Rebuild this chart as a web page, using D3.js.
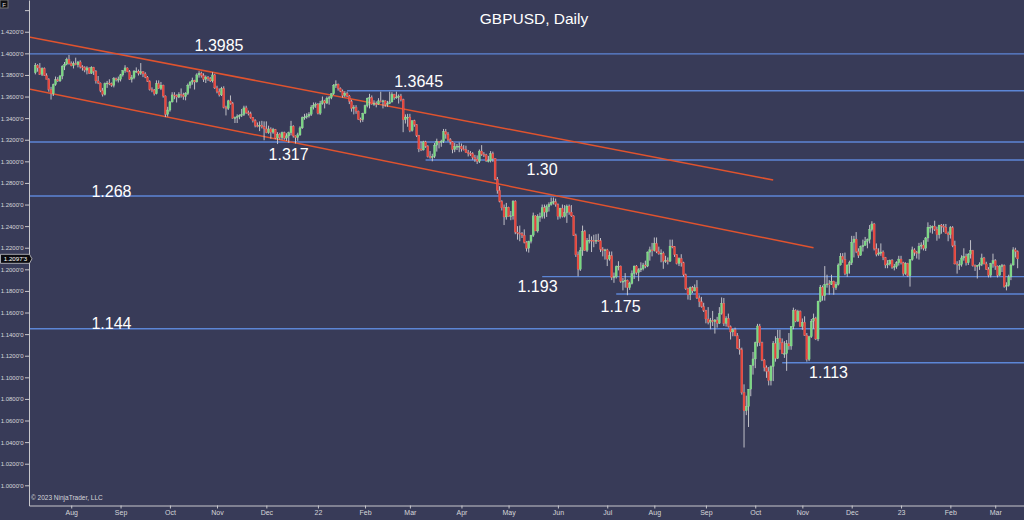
<!DOCTYPE html>
<html lang="en">
<head>
<meta charset="UTF-8">
<title>GBPUSD, Daily</title>
<script src="https://cdn.jsdelivr.net/npm/d3@7"></script>
<style>
  html, body { margin: 0; padding: 0; background: #383b58; }
  svg { display: block; font-family: 'Liberation Sans', Arial, sans-serif; }
</style>
</head>
<body>
<svg id="chart" width="1024" height="520"></svg>
<script>
// daily GBPUSD candles, one per weekday starting at firstDay
const firstDay = '2021-07-09';

const opens = [
  // Jul 2021
  1.3820,1.3890,1.3865,1.3805,1.3860,1.3795,1.3760,1.3665,1.3625,1.3710,1.3755,1.3745,1.3790,1.3880,1.3900,1.3945,
  // Aug
  1.3905,1.3885,1.3905,1.3895,1.3920,1.3875,1.3870,1.3845,1.3865,1.3815,1.3870,1.3835,1.3745,1.3725,1.3655,1.3620,1.3720,1.3725,1.3720,1.3705,1.3765,1.3755,
  // Sep
  1.3760,1.3800,1.3840,1.3865,1.3830,1.3760,1.3775,1.3835,1.3835,1.3815,1.3830,1.3810,1.3780,1.3740,1.3665,1.3660,1.3625,1.3720,1.3675,1.3705,1.3605,1.3435,
  // Oct
  1.3475,1.3550,1.3615,1.3610,1.3595,1.3620,1.3615,1.3600,1.3630,1.3705,1.3735,1.3750,1.3735,1.3800,1.3815,1.3795,1.3760,1.3780,1.3765,1.3745,1.3800,
  // Nov
  1.3680,1.3645,1.3615,1.3675,1.3500,1.3490,1.3560,1.3535,1.3400,1.3405,1.3415,1.3425,1.3435,1.3495,1.3450,1.3440,1.3405,1.3375,1.3330,1.3325,1.3335,1.3320,
  // Dec
  1.3300,1.3265,1.3300,1.3270,1.3295,1.3215,1.3250,1.3220,1.3265,1.3215,1.3235,1.3265,1.3325,1.3235,1.3220,1.3245,1.3310,1.3405,1.3410,1.3420,1.3435,1.3500,1.3520,
  // Jan 2022
  1.3530,1.3445,1.3535,1.3560,1.3540,1.3585,1.3590,1.3625,1.3705,1.3715,1.3675,1.3650,1.3610,1.3630,1.3605,1.3555,1.3490,1.3500,1.3465,1.3390,1.3385,
  // Feb
  1.3445,1.3515,1.3585,1.3590,1.3530,1.3535,1.3530,1.3560,1.3555,1.3560,1.3525,1.3535,1.3550,1.3620,1.3590,1.3595,1.3605,1.3570,1.3385,1.3410,
  // Mar
  1.3410,1.3285,1.3375,1.3340,1.3240,1.3115,1.3105,1.3180,1.3140,1.3045,1.3035,1.3045,1.3150,1.3185,1.3175,1.3185,1.3275,1.3250,1.3200,1.3180,1.3110,1.3135,1.3140,
  // Apr
  1.3140,1.3115,1.3110,1.3080,1.3075,1.3070,1.3035,1.3020,1.3000,1.3095,1.3065,1.3060,1.3005,1.3005,1.3070,1.3025,1.2835,1.2730,1.2630,1.2570,1.2485,
  // May
  1.2575,1.2490,1.2495,1.2630,1.2345,1.2335,1.2330,1.2315,1.2250,1.2195,1.2260,1.2315,1.2495,1.2355,1.2490,1.2490,1.2570,1.2530,1.2580,1.2600,1.2620,1.2625,
  // Jun
  1.2600,1.2490,1.2565,1.2490,1.2525,1.2585,1.2530,1.2495,1.2315,1.2135,1.2000,1.2175,1.2350,1.2175,1.2265,1.2270,1.2265,1.2260,1.2270,1.2265,1.2185,1.2175,
  // Jul
  1.2180,1.2095,1.2125,1.1925,1.1930,1.2025,1.2030,1.1890,1.1890,1.1900,1.1830,1.1870,1.1960,1.2030,1.1970,1.1995,1.2005,1.2040,1.2030,1.2160,1.2180,
  // Aug
  1.2175,1.2240,1.2165,1.2145,1.2150,1.2075,1.2080,1.2075,1.2215,1.2210,1.2135,1.2055,1.2100,1.2060,1.1950,1.1820,1.1765,1.1830,1.1800,1.1830,1.1735,1.1700,1.1655,
  // Sep
  1.1620,1.1540,1.1510,1.1525,1.1515,1.1530,1.1500,1.1590,1.1685,1.1500,1.1545,1.1470,1.1420,1.1440,1.1385,1.1270,1.1255,1.0860,1.0690,1.0730,1.0890,1.1110,
  // Oct
  1.1170,1.1320,1.1475,1.1320,1.1160,1.1090,1.1055,1.0970,1.1100,1.1315,1.1175,1.1360,1.1320,1.1220,1.1220,1.1310,1.1290,1.1470,1.1620,1.1520,1.1610,
  // Nov
  1.1470,1.1510,1.1390,1.1165,1.1375,1.1520,1.1545,1.1355,1.1705,1.1835,1.1755,1.1860,1.1865,1.1860,1.1890,1.1830,1.1860,1.2040,1.2120,1.2090,1.1960,1.2040,
  // Dec
  1.2060,1.2250,1.2280,1.2165,1.2130,1.2210,1.2220,1.2260,1.2275,1.2370,1.2420,1.2190,1.2140,1.2150,1.2160,1.2110,1.2040,1.2050,1.2085,1.2020,1.2025,1.2060,
  // Jan 2023
  1.2095,1.2060,1.1960,1.2055,1.1940,1.2090,1.2180,1.2155,1.2150,1.2215,1.2225,1.2195,1.2290,1.2390,1.2390,1.2400,1.2370,1.2320,1.2410,1.2400,1.2390,1.2335,
  // Feb
  1.2320,1.2385,1.2220,1.2050,1.2045,1.2045,1.2105,1.2120,1.2060,1.2140,1.2175,1.2035,1.2025,1.2035,1.2045,1.2105,1.2050,1.2000,1.1945,1.2055,
  // Mar
  1.2080,1.2030,1.1945,1.2030,1.2035,1.1840,1.1850,1.1930,1.2040,1.2180,1.2165
];

const highs = [
  1.3910,1.3900,1.3910,1.3870,1.3870,1.3815,1.3770,1.3690,1.3720,1.3785,1.3780,1.3800,1.3890,1.3920,1.3960,1.3985,
  1.3925,1.3925,1.3960,1.3930,1.3935,1.3890,1.3880,1.3880,1.3870,1.3880,1.3875,1.3845,1.3790,1.3730,1.3680,1.3730,1.3745,1.3760,1.3730,1.3780,1.3775,1.3785,
  1.3810,1.3845,1.3890,1.3870,1.3845,1.3800,1.3845,1.3870,1.3850,1.3910,1.3835,1.3825,1.3790,1.3750,1.3685,1.3670,1.3750,1.3750,1.3735,1.3710,1.3610,1.3505,
  1.3560,1.3640,1.3640,1.3620,1.3640,1.3675,1.3635,1.3640,1.3720,1.3740,1.3775,1.3755,1.3815,1.3835,1.3830,1.3815,1.3795,1.3790,1.3780,1.3825,1.3810,
  1.3700,1.3675,1.3690,1.3695,1.3515,1.3570,1.3610,1.3550,1.3415,1.3435,1.3435,1.3485,1.3515,1.3515,1.3470,1.3460,1.3410,1.3390,1.3360,1.3370,1.3375,1.3370,
  1.3370,1.3330,1.3315,1.3310,1.3300,1.3270,1.3265,1.3275,1.3275,1.3260,1.3275,1.3375,1.3335,1.3240,1.3265,1.3325,1.3415,1.3440,1.3445,1.3455,1.3520,1.3545,1.3545,
  1.3540,1.3560,1.3600,1.3570,1.3600,1.3605,1.3630,1.3715,1.3750,1.3720,1.3685,1.3665,1.3650,1.3645,1.3615,1.3570,1.3520,1.3520,1.3470,1.3405,1.3450,
  1.3525,1.3590,1.3625,1.3610,1.3565,1.3555,1.3585,1.3645,1.3570,1.3565,1.3560,1.3645,1.3640,1.3625,1.3645,1.3620,1.3625,1.3580,1.3435,1.3440,
  1.3440,1.3380,1.3385,1.3345,1.3245,1.3185,1.3190,1.3190,1.3150,1.3095,1.3070,1.3170,1.3210,1.3185,1.3200,1.3300,1.3300,1.3270,1.3215,1.3185,1.3170,1.3160,1.3175,
  1.3165,1.3150,1.3145,1.3105,1.3095,1.3085,1.3060,1.3055,1.3110,1.3150,1.3085,1.3070,1.3050,1.3095,1.3090,1.3030,1.2855,1.2770,1.2640,1.2600,1.2615,
  1.2580,1.2540,1.2640,1.2640,1.2400,1.2405,1.2345,1.2370,1.2260,1.2265,1.2320,1.2525,1.2500,1.2510,1.2525,1.2600,1.2600,1.2600,1.2620,1.2665,1.2665,1.2655,
  1.2610,1.2570,1.2600,1.2595,1.2600,1.2600,1.2595,1.2500,1.2330,1.2165,1.2205,1.2405,1.2365,1.2290,1.2325,1.2305,1.2320,1.2325,1.2330,1.2290,1.2205,1.2190,
  1.2190,1.2165,1.2165,1.1970,1.2035,1.2075,1.2035,1.1920,1.1965,1.1905,1.1885,1.1990,1.2035,1.2040,1.2010,1.2065,1.2060,1.2080,1.2165,1.2210,1.2245,
  1.2295,1.2295,1.2210,1.2185,1.2165,1.2125,1.2110,1.2275,1.2275,1.2215,1.2140,1.2110,1.2140,1.2070,1.1960,1.1830,1.1840,1.1845,1.1860,1.1900,1.1760,1.1745,1.1690,
  1.1625,1.1650,1.1550,1.1615,1.1540,1.1560,1.1650,1.1740,1.1735,1.1565,1.1590,1.1480,1.1450,1.1460,1.1410,1.1355,1.1275,1.0935,1.0830,1.0890,1.1115,1.1235,
  1.1330,1.1495,1.1495,1.1330,1.1170,1.1110,1.1095,1.1110,1.1335,1.1380,1.1440,1.1440,1.1360,1.1335,1.1345,1.1410,1.1475,1.1645,1.1630,1.1625,1.1620,
  1.1545,1.1565,1.1410,1.1385,1.1540,1.1590,1.1560,1.1710,1.1855,1.1850,1.2030,1.1950,1.1900,1.1950,1.1895,1.1885,1.2055,1.2150,1.2150,1.2155,1.2045,1.2080,
  1.2310,1.2310,1.2345,1.2195,1.2220,1.2275,1.2300,1.2285,1.2410,1.2445,1.2430,1.2240,1.2195,1.2240,1.2175,1.2115,1.2085,1.2090,1.2095,1.2050,1.2075,1.2125,
  1.2125,1.2070,1.2065,1.2060,1.2095,1.2210,1.2195,1.2170,1.2245,1.2250,1.2270,1.2300,1.2435,1.2410,1.2405,1.2450,1.2395,1.2410,1.2420,1.2420,1.2420,1.2350,
  1.2400,1.2400,1.2265,1.2075,1.2085,1.2130,1.2195,1.2145,1.2150,1.2270,1.2180,1.2045,1.2040,1.2065,1.2145,1.2115,1.2070,1.2020,1.2060,1.2145,
  1.2095,1.2035,1.2040,1.2050,1.2045,1.1880,1.1950,1.2055,1.2205,1.2200,1.2175
];

const lows = [
  1.3805,1.3830,1.3800,1.3790,1.3790,1.3760,1.3645,1.3572,1.3605,1.3700,1.3735,1.3735,1.3760,1.3845,1.3890,1.3895,
  1.3880,1.3860,1.3890,1.3870,1.3860,1.3840,1.3825,1.3805,1.3810,1.3810,1.3800,1.3720,1.3715,1.3640,1.3600,1.3610,1.3680,1.3705,1.3690,1.3685,1.3740,1.3730,
  1.3740,1.3785,1.3820,1.3825,1.3755,1.3730,1.3760,1.3820,1.3795,1.3800,1.3780,1.3770,1.3735,1.3655,1.3640,1.3610,1.3620,1.3670,1.3660,1.3590,1.3410,1.3415,
  1.3460,1.3545,1.3575,1.3545,1.3585,1.3590,1.3570,1.3565,1.3615,1.3675,1.3710,1.3665,1.3730,1.3775,1.3775,1.3735,1.3725,1.3745,1.3735,1.3730,1.3670,
  1.3630,1.3600,1.3605,1.3490,1.3425,1.3475,1.3525,1.3395,1.3355,1.3355,1.3390,1.3410,1.3420,1.3440,1.3425,1.3395,1.3360,1.3315,1.3315,1.3280,1.3305,1.3195,
  1.3260,1.3255,1.3210,1.3255,1.3205,1.3160,1.3200,1.3200,1.3200,1.3190,1.3170,1.3240,1.3220,1.3165,1.3190,1.3235,1.3300,1.3385,1.3395,1.3405,1.3420,1.3480,1.3495,
  1.3435,1.3430,1.3525,1.3490,1.3530,1.3525,1.3575,1.3615,1.3680,1.3655,1.3640,1.3590,1.3595,1.3595,1.3530,1.3460,1.3435,1.3440,1.3385,1.3360,1.3365,
  1.3440,1.3500,1.3490,1.3525,1.3515,1.3500,1.3525,1.3545,1.3490,1.3505,1.3505,1.3530,1.3545,1.3570,1.3580,1.3535,1.3555,1.3270,1.3350,1.3320,
  1.3270,1.3275,1.3320,1.3225,1.3085,1.3095,1.3100,1.3125,1.3035,1.3025,1.3000,1.3030,1.3090,1.3120,1.3135,1.3170,1.3210,1.3185,1.3155,1.3075,1.3085,1.3105,1.3085,
  1.3090,1.3100,1.3080,1.3045,1.3050,1.3015,1.2995,1.2975,1.2985,1.3050,1.3040,1.2995,1.2990,1.2990,1.2995,1.2825,1.2700,1.2620,1.2545,1.2410,1.2460,
  1.2490,1.2455,1.2460,1.2325,1.2275,1.2260,1.2290,1.2240,1.2165,1.2155,1.2240,1.2300,1.2355,1.2340,1.2440,1.2470,1.2470,1.2485,1.2535,1.2590,1.2600,1.2580,
  1.2460,1.2470,1.2480,1.2480,1.2430,1.2505,1.2485,1.2310,1.2115,1.1935,1.1985,1.2125,1.2170,1.2160,1.2240,1.2160,1.2205,1.2235,1.2255,1.2160,1.2120,1.2090,
  1.2030,1.2080,1.1900,1.1875,1.1915,1.1990,1.1875,1.1805,1.1830,1.1760,1.1810,1.1860,1.1910,1.1950,1.1890,1.1975,1.1990,1.2010,1.2020,1.2080,1.2120,
  1.2165,1.2150,1.2135,1.2065,1.2005,1.2060,1.2045,1.2070,1.2195,1.2115,1.2045,1.2030,1.2025,1.1935,1.1810,1.1720,1.1715,1.1780,1.1795,1.1725,1.1650,1.1645,1.1605,
  1.1500,1.1490,1.1445,1.1475,1.1405,1.1460,1.1495,1.1580,1.1475,1.1470,1.1460,1.1350,1.1380,1.1380,1.1265,1.1210,1.0840,1.0350,1.0650,1.0540,1.0825,1.1025,
  1.1085,1.1285,1.1290,1.1150,1.1055,1.0995,1.0925,1.0925,1.0965,1.1145,1.1170,1.1255,1.1215,1.1180,1.1060,1.1255,1.1255,1.1445,1.1510,1.1515,1.1470,
  1.1440,1.1385,1.1145,1.1150,1.1365,1.1450,1.1345,1.1335,1.1695,1.1710,1.1710,1.1830,1.1765,1.1855,1.1765,1.1810,1.1850,1.2035,1.2060,1.1945,1.1930,1.1960,
  1.2040,1.2110,1.2150,1.2105,1.2125,1.2165,1.2220,1.2195,1.2240,1.2350,1.2175,1.2120,1.2125,1.2125,1.2085,1.2010,1.2010,1.2035,1.2005,1.1990,1.2005,1.2035,
  1.2045,1.1940,1.1950,1.1930,1.1840,1.2080,1.2125,1.2100,1.2090,1.2185,1.2175,1.2170,1.2255,1.2340,1.2330,1.2355,1.2265,1.2285,1.2330,1.2345,1.2330,1.2260,
  1.2285,1.2205,1.2045,1.1960,1.1995,1.2025,1.2080,1.2035,1.2040,1.2100,1.2025,1.1985,1.1915,1.1995,1.2030,1.2045,1.1995,1.1925,1.1925,1.2015,
  1.1995,1.1925,1.1940,1.1975,1.1830,1.1805,1.1840,1.1900,1.2035,1.2110,1.2010
];

const closes = [
  1.3890,1.3865,1.3805,1.3860,1.3795,1.3760,1.3665,1.3625,1.3710,1.3755,1.3745,1.3790,1.3880,1.3900,1.3945,1.3905,
  1.3885,1.3905,1.3895,1.3920,1.3875,1.3870,1.3845,1.3865,1.3815,1.3870,1.3835,1.3745,1.3725,1.3655,1.3620,1.3720,1.3725,1.3720,1.3705,1.3765,1.3755,1.3760,
  1.3800,1.3840,1.3865,1.3830,1.3760,1.3775,1.3835,1.3835,1.3815,1.3830,1.3810,1.3780,1.3740,1.3665,1.3660,1.3625,1.3720,1.3675,1.3705,1.3605,1.3435,1.3475,
  1.3550,1.3615,1.3610,1.3595,1.3620,1.3615,1.3600,1.3630,1.3705,1.3735,1.3750,1.3735,1.3800,1.3815,1.3795,1.3760,1.3780,1.3765,1.3745,1.3800,1.3680,
  1.3645,1.3615,1.3675,1.3500,1.3490,1.3560,1.3535,1.3400,1.3405,1.3415,1.3425,1.3435,1.3495,1.3450,1.3440,1.3405,1.3375,1.3330,1.3325,1.3335,1.3320,1.3300,
  1.3265,1.3300,1.3270,1.3295,1.3215,1.3250,1.3220,1.3265,1.3215,1.3235,1.3265,1.3325,1.3235,1.3220,1.3245,1.3310,1.3405,1.3410,1.3420,1.3435,1.3500,1.3520,1.3530,
  1.3445,1.3535,1.3560,1.3540,1.3585,1.3590,1.3625,1.3705,1.3715,1.3675,1.3650,1.3610,1.3630,1.3605,1.3555,1.3490,1.3500,1.3465,1.3390,1.3385,1.3445,
  1.3515,1.3585,1.3590,1.3530,1.3535,1.3530,1.3560,1.3555,1.3560,1.3525,1.3535,1.3550,1.3620,1.3590,1.3595,1.3605,1.3570,1.3385,1.3410,1.3410,
  1.3285,1.3375,1.3340,1.3240,1.3115,1.3105,1.3180,1.3140,1.3045,1.3035,1.3045,1.3150,1.3185,1.3175,1.3185,1.3275,1.3250,1.3200,1.3180,1.3110,1.3135,1.3140,1.3140,
  1.3115,1.3110,1.3080,1.3075,1.3070,1.3035,1.3020,1.3000,1.3095,1.3065,1.3060,1.3005,1.3005,1.3070,1.3025,1.2835,1.2730,1.2630,1.2570,1.2485,1.2575,
  1.2490,1.2495,1.2630,1.2345,1.2335,1.2330,1.2315,1.2250,1.2195,1.2260,1.2315,1.2495,1.2355,1.2490,1.2490,1.2570,1.2530,1.2580,1.2600,1.2620,1.2625,1.2600,
  1.2490,1.2565,1.2490,1.2525,1.2585,1.2530,1.2495,1.2315,1.2135,1.2000,1.2175,1.2350,1.2175,1.2265,1.2270,1.2265,1.2260,1.2270,1.2265,1.2185,1.2175,1.2180,
  1.2095,1.2125,1.1925,1.1930,1.2025,1.2030,1.1890,1.1890,1.1900,1.1830,1.1870,1.1960,1.2030,1.1970,1.1995,1.2005,1.2040,1.2030,1.2160,1.2180,1.2175,
  1.2240,1.2165,1.2145,1.2150,1.2075,1.2080,1.2075,1.2215,1.2210,1.2135,1.2055,1.2100,1.2060,1.1950,1.1820,1.1765,1.1830,1.1800,1.1830,1.1735,1.1700,1.1655,1.1620,
  1.1540,1.1510,1.1525,1.1515,1.1530,1.1500,1.1590,1.1685,1.1500,1.1545,1.1470,1.1420,1.1440,1.1385,1.1270,1.1255,1.0860,1.0690,1.0730,1.0890,1.1110,1.1170,
  1.1320,1.1475,1.1320,1.1160,1.1090,1.1055,1.0970,1.1100,1.1315,1.1175,1.1360,1.1320,1.1220,1.1220,1.1310,1.1290,1.1470,1.1620,1.1520,1.1610,1.1470,
  1.1510,1.1390,1.1165,1.1375,1.1520,1.1545,1.1355,1.1705,1.1835,1.1755,1.1860,1.1865,1.1860,1.1890,1.1830,1.1860,1.2040,1.2120,1.2090,1.1960,1.2040,1.2060,
  1.2250,1.2280,1.2165,1.2130,1.2210,1.2220,1.2260,1.2275,1.2370,1.2420,1.2190,1.2140,1.2150,1.2160,1.2110,1.2040,1.2050,1.2085,1.2020,1.2025,1.2060,1.2095,
  1.2060,1.1960,1.2055,1.1940,1.2090,1.2180,1.2155,1.2150,1.2215,1.2225,1.2195,1.2290,1.2390,1.2390,1.2400,1.2370,1.2320,1.2410,1.2400,1.2390,1.2335,1.2320,
  1.2385,1.2220,1.2050,1.2045,1.2045,1.2105,1.2120,1.2060,1.2140,1.2175,1.2035,1.2025,1.2035,1.2045,1.2105,1.2050,1.2000,1.1945,1.2055,1.2080,
  1.2030,1.1945,1.2030,1.2035,1.1840,1.1850,1.1930,1.2040,1.2180,1.2165,1.2097
];

// drawn support / resistance levels
const levelPrices = [1.3995, 1.3654, 1.3179, 1.3012, 1.2679, 1.1932, 1.1771, 1.1450, 1.1135];
const levelStarts = [null, '2022-01-20', null, '2022-03-10', null, '2022-05-23', '2022-07-07', null, '2022-10-19'];

const labelTexts  = ['1.3985', '1.3645', '1.317', '1.30', '1.268', '1.193', '1.175', '1.144', '1.113'];
const labelDates  = ['2021-10-18', '2022-02-18', '2021-12-02', '2022-05-12', '2021-08-13', '2022-05-06', '2022-06-28', '2021-08-13', '2022-11-04'];
const labelPrices = [1.4021, 1.3688, 1.3012, 1.2873, 1.2669, 1.1790, 1.1605, 1.1447, 1.0994];

// channel lines: [date, price] anchors
const trendFrom = [['2021-07-09', 1.4140], ['2021-07-09', 1.3658]];
const trendTo   = [['2022-10-13', 1.2827], ['2022-11-08', 1.2200]];

const priceTicks = [1.00, 1.02, 1.04, 1.06, 1.08, 1.10, 1.12, 1.14, 1.16, 1.18, 1.20, 1.22,
                    1.24, 1.26, 1.28, 1.30, 1.32, 1.34, 1.36, 1.38, 1.40, 1.42, 1.44];
const lastPrice = 1.20973;

const W = 1024, H = 520;
const plotL = 29, plotR = 1024, plotT = 0, plotB = 505.5;

const parse = d3.utcParse('%Y-%m-%d');
const fmt = d3.utcFormat('%Y-%m-%d');
const days = [];
for (let d = parse(firstDay); days.length < closes.length; d = d3.utcDay.offset(d, 1)) {
  if (d.getUTCDay() !== 0 && d.getUTCDay() !== 6) days.push(d);
}
const keys = days.map(fmt);

const candles = keys.map((k, i) => ({ key: k, o: opens[i], h: highs[i], l: lows[i], c: closes[i] }));

const x = d3.scalePoint().domain(keys).range([plotL, plotR]).padding(2.83);
const y = d3.scaleLinear().domain([0.9813, 1.4494]).range([plotB, plotT]);
const step = x.step();

const svg = d3.select('#chart');

svg.append('rect').attr('width', W).attr('height', H).attr('fill', '#383b58');

svg.append('clipPath').attr('id', 'plot')
  .append('rect').attr('x', plotL).attr('y', plotT).attr('width', plotR - plotL).attr('height', plotB - plotT);

const plot = svg.append('g').attr('clip-path', 'url(#plot)');

// horizontal levels
plot.append('g').selectAll('line')
  .data(levelPrices)
  .join('line')
  .attr('x1', (d, i) => levelStarts[i] ? x(levelStarts[i]) : plotL)
  .attr('x2', plotR)
  .attr('y1', d => y(d))
  .attr('y2', d => y(d))
  .attr('stroke', '#5c86d6')
  .attr('stroke-width', 1.4);

// channel lines, extended back to the axis
plot.append('g').selectAll('line')
  .data(trendFrom)
  .join('line')
  .each(function(d, i) {
    const x1 = x(d[0]), y1 = y(d[1]);
    const x2 = x(trendTo[i][0]), y2 = y(trendTo[i][1]);
    const slope = (y2 - y1) / (x2 - x1);
    d3.select(this)
      .attr('x1', plotL).attr('y1', y1 + slope * (plotL - x1))
      .attr('x2', x2).attr('y2', y2);
  })
  .attr('stroke', '#e0532e')
  .attr('stroke-width', 1.5);

// candles
const bw = step * 0.9;
const cg = plot.append('g');
cg.selectAll('line')
  .data(candles)
  .join('line')
  .attr('x1', d => x(d.key))
  .attr('x2', d => x(d.key))
  .attr('y1', d => y(d.h))
  .attr('y2', d => y(d.l))
  .attr('stroke', '#cfcfd4')
  .attr('stroke-width', 0.9);

cg.selectAll('rect')
  .data(candles)
  .join('rect')
  .attr('x', d => x(d.key) - bw / 2)
  .attr('width', bw)
  .attr('y', d => y(Math.max(d.o, d.c)))
  .attr('height', d => Math.max(0.9, Math.abs(y(d.o) - y(d.c))))
  .attr('fill', d => d.c >= d.o ? '#78d880' : '#e8443a')
  .attr('stroke', d => d.c >= d.o ? '#a8e8ac' : '#f07a70')
  .attr('stroke-width', 0.3);

// level labels
svg.append('g').selectAll('text')
  .data(labelTexts)
  .join('text')
  .attr('x', (d, i) => x(labelDates[i]))
  .attr('y', (d, i) => y(labelPrices[i]))
  .attr('fill', '#ffffff')
  .attr('font-size', 16)
  .text(d => d);

// title
svg.append('text')
  .attr('x', 534).attr('y', 24)
  .attr('text-anchor', 'middle')
  .attr('fill', '#ffffff')
  .attr('font-size', 15.5)
  .text('GBPUSD, Daily');

// axes
const monthStarts = keys.filter((k, i) => i > 0 && k.slice(5, 7) !== keys[i - 1].slice(5, 7));
const xAxis = d3.axisBottom(x)
  .tickValues(monthStarts)
  .tickSize(3)
  .tickSizeOuter(0)
  .tickPadding(2)
  .tickFormat(k => {
    const d = parse(k);
    return d.getUTCMonth() === 0 ? d3.utcFormat('%y')(d) : d3.utcFormat('%b')(d);
  });

const gx = svg.append('g').attr('transform', `translate(0,${plotB})`).call(xAxis);
gx.select('.domain').attr('stroke', '#c8c8cc');
gx.selectAll('.tick line').attr('stroke', '#c8c8cc');
gx.selectAll('.tick text').attr('fill', '#d6d6da').attr('font-size', 7)
  .attr('font-family', "'Liberation Sans', Arial, sans-serif");

const yAxis = d3.axisLeft(y)
  .tickValues(priceTicks)
  .tickSize(4)
  .tickSizeOuter(0)
  .tickPadding(1.5)
  .tickFormat(v => v > 1.43 ? '' : d3.format('.4f')(v) + "'0");

const gy = svg.append('g').attr('transform', `translate(${plotL},0)`).call(yAxis);
gy.select('.domain').attr('stroke', '#c8c8cc');
gy.selectAll('.tick line').attr('stroke', '#c8c8cc');
gy.selectAll('.tick text').attr('fill', '#d6d6da').attr('font-size', 6)
  .attr('font-family', "'Liberation Sans', Arial, sans-serif");

// last price marker
const ly = y(lastPrice);
const marker = svg.append('g');
marker.append('path')
  .attr('d', `M0.5,${ly - 4.5}H29.5L32,${ly}L29.5,${ly + 4.5}H0.5Z`)
  .attr('fill', '#0b0b0f')
  .attr('stroke', '#c8c8cc')
  .attr('stroke-width', 0.8);
marker.append('text')
  .attr('x', 15.5).attr('y', ly + 2.3)
  .attr('text-anchor', 'middle')
  .attr('fill', '#ffffff')
  .attr('font-size', 6.2)
  .text(d3.format('.4f')(Math.floor(lastPrice * 1e4) / 1e4) + "'" + Math.round((lastPrice * 1e5) % 10));

// copyright
svg.append('text')
  .attr('x', 31).attr('y', 499.5)
  .attr('fill', '#d6d6da')
  .attr('font-size', 6.5)
  .text('\u00a9 2023 NinjaTrader, LLC');

// small toolbar glyph top-left
svg.append('rect').attr('x', 0).attr('y', 0).attr('width', 8).attr('height', 8)
  .attr('fill', '#101014').attr('stroke', '#777');
svg.append('text').attr('x', 2.2).attr('y', 6.5).attr('fill', '#ddd').attr('font-size', 6).text('F');

console.log('candles', candles.length, 'last', keys[keys.length - 1]);
</script>
</body>
</html>
